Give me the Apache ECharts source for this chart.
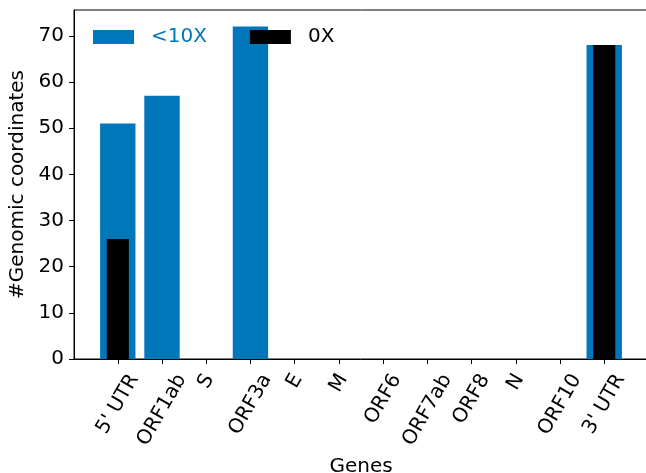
<!DOCTYPE html>
<html><head><meta charset="utf-8">
<script src="https://cdn.jsdelivr.net/npm/echarts@6/dist/echarts.min.js"></script>
<style>html,body{margin:0;padding:0;background:#fff}#c{width:646px;height:473px}</style>
</head><body><div id="c"></div>
<script>
const genes = ["5' UTR","ORF1ab","S","ORF3a","E","M","ORF6","ORF7ab","ORF8","N","ORF10","3' UTR"];
const below10X = [51,57,0,72,0,0,0,0,0,0,0,68];
const zeroX = [26,0,0,0,0,0,0,0,0,0,0,68];
const yTicks = [0,10,20,30,40,50,60,70];
const seriesNames = ['<10X','0X'];
const colors = ['#0077BB','#000000'];

const FONT = 'DejaVu Sans';
const FS = 20;
const idx = genes.map((g,i)=>i);
const LABEL_MARGIN = 35.6;

// per-label offsets so the rotated labels sit like matplotlib's (bbox centred under tick)
const ctx = document.createElement('canvas').getContext('2d');
ctx.font = FS + 'px "' + FONT + '"';
const rich = {};
genes.forEach((g,i)=>{
  const w = ctx.measureText(g).width;
  const t = 16.8 + 0.433*w - LABEL_MARGIN;   // extra vertical drop wanted
  const a = -0.866*t, b = 0.5*t;             // along text dir / along text normal
  const pl = a > 0 ? 2*a : 0, pr = a < 0 ? -2*a : 0;
  const pt = b > 0 ? 2*b : 0, pb = b < 0 ? -2*b : 0;
  rich['g'+i] = {fontSize:FS, fontFamily:FONT, color:'#000', lineHeight:FS, padding:[pt, pr, pb, pl]};
});

const chart = echarts.init(document.getElementById('c'), null, {renderer:'canvas'});
const xBase = {
  type:'value', min:-0.99, max:11.99, gridIndex:0,
  splitLine:{show:false}
};
chart.setOption({
  animation:false,
  textStyle:{fontFamily:FONT},
  grid:{left:74, right:-2, top:10, bottom:114, outerBoundsMode:'none', containLabel:false,
        show:true, borderColor:'#000', borderWidth:1, backgroundColor:'transparent'},
  legend:{
    left:93, top:27, padding:0, itemWidth:41, itemHeight:14, itemGap:43,
    icon:'rect',
    textStyle:{fontSize:FS, fontFamily:FONT, padding:[0,0,0,12]},
    data:[
      {name:seriesNames[0], textStyle:{color:colors[0]}},
      {name:seriesNames[1], textStyle:{color:colors[1]}}
    ]
  },
  xAxis:[
    Object.assign({}, xBase, {
      name:'Genes', nameLocation:'middle', nameGap:92,
      nameTextStyle:{fontSize:FS, fontFamily:FONT, color:'#000'},
      axisLine:{onZero:false, lineStyle:{color:'#000', width:1}},
      axisTick:{show:true, length:5, customValues:idx, lineStyle:{color:'#000'}},
      axisLabel:{show:true, rotate:60, margin:LABEL_MARGIN, customValues:idx, hideOverlap:false,
        align:'center', verticalAlign:'middle',
        showMinLabel:true, showMaxLabel:true,
        formatter:(v)=>'{g'+Math.round(v)+'|'+genes[Math.round(v)]+'}', rich:rich}
    }),
    Object.assign({}, xBase, {show:false})
  ],
  yAxis:{
    type:'value', min:0, max:75.6, interval:10,
    name:'#Genomic coordinates', nameLocation:'middle', nameGap:30,
    nameTextStyle:{fontSize:FS, fontFamily:FONT, color:'#000'},
    splitLine:{show:false},
    axisLine:{show:true, onZero:false, lineStyle:{color:'#000', width:1}},
    axisTick:{show:true, length:5, customValues:yTicks, lineStyle:{color:'#000'}},
    axisLabel:{fontSize:FS, fontFamily:FONT, color:'#000', margin:10, customValues:yTicks}
  },
  series:[
    {name:seriesNames[0], type:'bar', xAxisIndex:0, barWidth:'80%', itemStyle:{color:colors[0]},
     data: below10X.map((v,i)=>[i,v])},
    {name:seriesNames[1], type:'bar', xAxisIndex:1, barWidth:'50%', itemStyle:{color:colors[1]},
     data: zeroX.map((v,i)=>[i,v])}
  ]
});
</script>
</body></html>
